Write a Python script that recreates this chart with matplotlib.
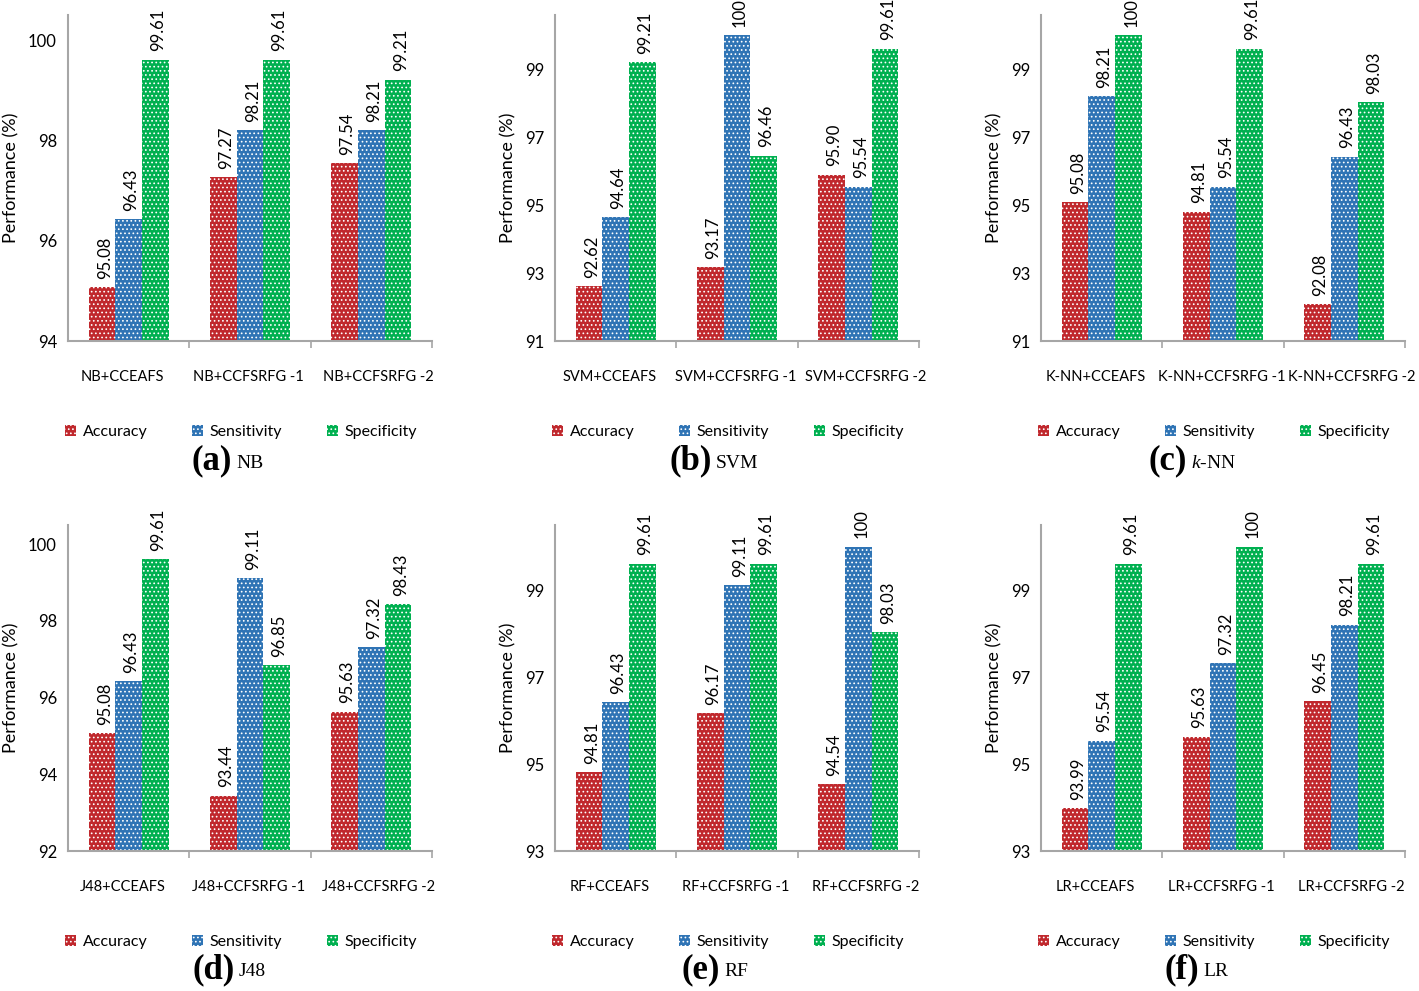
import numpy as np
import matplotlib.pyplot as plt

# --- data ---
metrics = ["Accuracy", "Sensitivity", "Specificity"]
colors = ["#C0282D", "#2F74B5", "#00B050"]

nb_cats = ["NB+CCEAFS", "NB+CCFSRFG -1", "NB+CCFSRFG -2"]
nb_acc = [95.08, 97.27, 97.54]
nb_sen = [96.43, 98.21, 98.21]
nb_spe = [99.61, 99.61, 99.21]

svm_cats = ["SVM+CCEAFS", "SVM+CCFSRFG -1", "SVM+CCFSRFG -2"]
svm_acc = [92.62, 93.17, 95.90]
svm_sen = [94.64, 100, 95.54]
svm_spe = [99.21, 96.46, 99.61]

knn_cats = ["K-NN+CCEAFS", "K-NN+CCFSRFG -1", "K-NN+CCFSRFG -2"]
knn_acc = [95.08, 94.81, 92.08]
knn_sen = [98.21, 95.54, 96.43]
knn_spe = [100, 99.61, 98.03]

j48_cats = ["J48+CCEAFS", "J48+CCFSRFG -1", "J48+CCFSRFG -2"]
j48_acc = [95.08, 93.44, 95.63]
j48_sen = [96.43, 99.11, 97.32]
j48_spe = [99.61, 96.85, 98.43]

rf_cats = ["RF+CCEAFS", "RF+CCFSRFG -1", "RF+CCFSRFG -2"]
rf_acc = [94.81, 96.17, 94.54]
rf_sen = [96.43, 99.11, 100]
rf_spe = [99.61, 99.61, 98.03]

lr_cats = ["LR+CCEAFS", "LR+CCFSRFG -1", "LR+CCFSRFG -2"]
lr_acc = [93.99, 95.63, 96.45]
lr_sen = [95.54, 97.32, 98.21]
lr_spe = [99.61, 100, 99.61]

panels = [
    ("(a)", "NB", nb_cats, [nb_acc, nb_sen, nb_spe], (94, 100.5), [94, 96, 98, 100]),
    ("(b)", "SVM", svm_cats, [svm_acc, svm_sen, svm_spe], (91, 100.6), [91, 93, 95, 97, 99]),
    ("(c)", r"$\mathit{k}$-NN", knn_cats, [knn_acc, knn_sen, knn_spe], (91, 100.6), [91, 93, 95, 97, 99]),
    ("(d)", "J48", j48_cats, [j48_acc, j48_sen, j48_spe], (92, 100.5), [92, 94, 96, 98, 100]),
    ("(e)", "RF", rf_cats, [rf_acc, rf_sen, rf_spe], (93, 100.5), [93, 95, 97, 99]),
    ("(f)", "LR", lr_cats, [lr_acc, lr_sen, lr_spe], (93, 100.5), [93, 95, 97, 99]),
]

plt.rcParams['font.family'] = ['Lato', 'DejaVu Sans']
plt.rcParams['mathtext.fontset'] = 'custom'
plt.rcParams['mathtext.it'] = 'Liberation Serif:italic'
plt.rcParams['mathtext.rm'] = 'Liberation Serif'
plt.rcParams['hatch.linewidth'] = 0.7

W, H = 1419, 991
fig = plt.figure(figsize=(W / 100, H / 100), dpi=100)

ax_left = [68, 555, 1041]
ax_top = [15, 525]
ax_w, ax_h = 364, 326
cap_x = [[232, 712, 1187], [235, 720, 1199]]
cap_y = [461, 970]

grey = "#A6A6A6"
bar_w = 0.22
x = np.arange(3)
label_shift = [-0.05, -0.01, 0.06]  # Excel-like category label placement

for i, (tag, name, cats, series, ylim, yticks) in enumerate(panels):
    row, col = divmod(i, 3)
    ax = fig.add_axes([ax_left[col] / W, 1 - (ax_top[row] + ax_h) / H, ax_w / W, ax_h / H])
    for k, vals in enumerate(series):
        ax.bar(x + (k - 1) * bar_w, np.array(vals) - ylim[0], bar_w, bottom=ylim[0],
               color=colors[k], edgecolor="white", linewidth=0, hatch="....",
               label=metrics[k])
        for xb, v in zip(x + (k - 1) * bar_w, vals):
            txt = "100" if v == 100 else f"{v:.2f}"
            ax.annotate(txt, (xb, v), xytext=(2, 6), textcoords="offset points",
                        rotation=90, ha="center", va="bottom", fontsize=12)
    ax.set_xlim(-0.5, 2.5)
    ax.set_ylim(*ylim)
    ax.set_yticks(yticks)
    ax.set_xticks(x)
    ax.set_xticklabels([])
    for xc, c, dx in zip(x, cats, label_shift):
        ax.text(xc + dx, -0.11, c, transform=ax.get_xaxis_transform(),
                ha="center", va="center", fontsize=10.5)
    ax.set_xticks([0.5, 1.5, 2.5], minor=True)
    ax.tick_params(axis="x", which="major", length=0)
    ax.tick_params(axis="x", which="minor", length=5, color=grey, width=1.2)
    ax.tick_params(axis="y", length=0, pad=8, labelsize=12)
    for s in ["top", "right"]:
        ax.spines[s].set_visible(False)
    for s in ["left", "bottom"]:
        ax.spines[s].set_color(grey)
        ax.spines[s].set_linewidth(1.5)
    ax.set_ylabel("Performance (%)", fontsize=13, labelpad=6)
    ax.legend(loc="center", bbox_to_anchor=(0.475, -0.28), ncol=3, frameon=False,
              fontsize=11.5, handlelength=0.7, handleheight=0.7, handletextpad=0.4,
              columnspacing=2.8)

    fig.text(cap_x[row][col] / W, 1 - cap_y[row] / H, tag, ha="right", va="center",
             family="Liberation Serif", fontweight="bold", fontsize=25)
    fig.text((cap_x[row][col] + 4) / W, 1 - (cap_y[row] + 2) / H, name, ha="left", va="center",
             family="Liberation Serif", fontsize=14)

fig.savefig("out.png", dpi=100)
